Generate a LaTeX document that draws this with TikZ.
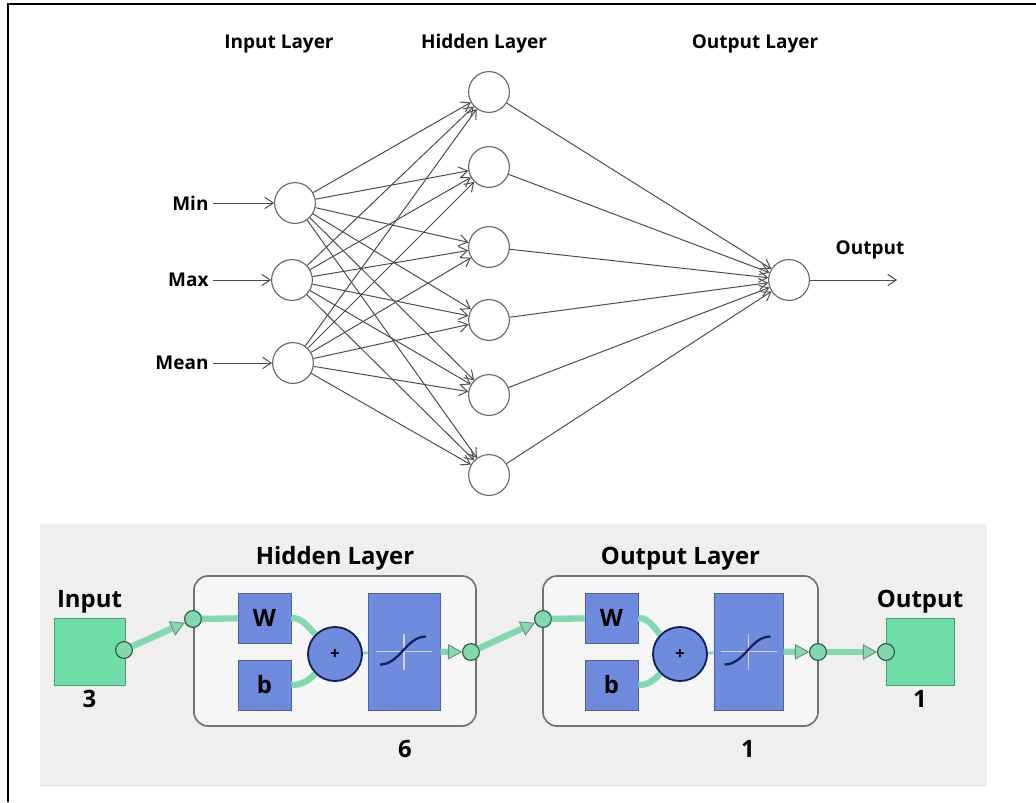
\documentclass[tikz,border=0pt]{standalone}
\usepackage{fontspec}
\setmainfont{Open Sans}
\usepackage{xcolor}
\usepackage{tikz}
\usetikzlibrary{shapes.geometric,arrows.meta,positioning,calc}

\definecolor{mintbox}{RGB}{112,222,168}
\definecolor{tubeg}{RGB}{132,216,176}
\definecolor{portdark}{RGB}{40,90,60}
\definecolor{blueb}{RGB}{111,139,222}
\definecolor{navy}{RGB}{20,30,90}
\definecolor{panelg}{RGB}{239,239,239}
\definecolor{layerg}{RGB}{246,246,246}

\begin{document}
\begin{tikzpicture}[
  x=0.025cm, y=-0.025cm,
  every node/.style={font=\bfseries},
  toplbl/.style={font=\fontsize{13.5}{15}\selectfont\bfseries},
  botlbl/.style={font=\fontsize{17}{20}\selectfont\bfseries},
  neuron/.style={draw=black!60, circle, minimum size=1.02cm, line width=0.8pt, fill=white},
  link/.style={-{Straight Barb[length=6pt,width=8pt]}, draw=black!70, line width=0.7pt},
  iobox/.style={draw=mintbox!70!black, fill=mintbox, minimum width=1.775cm, minimum height=1.675cm},
  layerbox/.style={draw=black!55, fill=layerg, rounded corners=10pt, line width=1.2pt, minimum height=3.75cm},
  wbbox/.style={draw=blueb!70!black, fill=blueb, minimum width=1.325cm, minimum height=1.25cm, font=\fontsize{17}{20}\selectfont\bfseries},
  tfbox/.style={draw=blueb!70!black, fill=blueb, minimum height=2.925cm},
  sumnode/.style={draw=navy, circle, fill=blueb, line width=1.3pt, minimum size=1.35cm, font=\large\bfseries},
  port/.style={draw=portdark, circle, fill=tubeg, line width=0.8pt, minimum size=0.42cm, inner sep=0pt},
  tube/.style={draw=tubeg, line width=4.5pt},
  tubearrow/.style={tube, -{Triangle[length=10pt,width=11pt,line width=0.6pt,fill=tubeg,color=portdark!70]}}
]
  % frame
  \useasboundingbox (0,0) rectangle (1036,802);
  \draw[line width=1.6pt] (8,802) -- (8,4) -- (1036,4);

  % fully connected net
  \node[toplbl] (tin) at (279,44) {Input Layer};
  \node[toplbl] (thid) at (484,44) {Hidden Layer};
  \node[toplbl] (tout) at (755,44) {Output Layer};

  \node[neuron] (i1) at (295,203) {};
  \node[neuron] (i2) at (292,280) {};
  \node[neuron] (i3) at (293,363) {};
  \node[neuron] (h1) at (489,92) {};
  \node[neuron] (h2) at (489,167) {};
  \node[neuron] (h3) at (489,247) {};
  \node[neuron] (h4) at (489,320) {};
  \node[neuron] (h5) at (489,395) {};
  \node[neuron] (h6) at (489,475) {};
  \node[neuron] (o1) at (789,280) {};

  \node[toplbl, anchor=east, inner sep=3pt] (min) at (213,203) {Min};
  \node[toplbl, anchor=east, inner sep=3pt] (max) at (213,280) {Max};
  \node[toplbl, anchor=east, inner sep=3pt] (mean) at (213,363) {Mean};
  \node[toplbl] (outl) at (870,250) {Output};
  \coordinate (oend) at (897,280);

  \draw[link] (min) -- (i1);
  \draw[link] (max) -- (i2);
  \draw[link] (mean) -- (i3);
  \draw[link] (i1) -- (h1);
  \draw[link] (i1) -- (h2);
  \draw[link] (i1) -- (h3);
  \draw[link] (i1) -- (h4);
  \draw[link] (i1) -- (h5);
  \draw[link] (i1) -- (h6);
  \draw[link] (i2) -- (h1);
  \draw[link] (i2) -- (h2);
  \draw[link] (i2) -- (h3);
  \draw[link] (i2) -- (h4);
  \draw[link] (i2) -- (h5);
  \draw[link] (i2) -- (h6);
  \draw[link] (i3) -- (h1);
  \draw[link] (i3) -- (h2);
  \draw[link] (i3) -- (h3);
  \draw[link] (i3) -- (h4);
  \draw[link] (i3) -- (h5);
  \draw[link] (i3) -- (h6);
  \draw[link] (h1) -- (o1);
  \draw[link] (h2) -- (o1);
  \draw[link] (h3) -- (o1);
  \draw[link] (h4) -- (o1);
  \draw[link] (h5) -- (o1);
  \draw[link] (h6) -- (o1);
  \draw[link] (o1) -- (oend);

  % block view
  \fill[panelg] (40,524) rectangle (987,787);

  \node[iobox] (inbox) at (89.5,651.5) {};
  \node[botlbl, above=0pt of inbox] (inlbl) {Input};
  \node[botlbl, below=0pt of inbox] (innum) {3};

  \node[layerbox, minimum width=7.05cm] (hid) at (335,651) {};
  \node[botlbl, above=0pt of hid] (hidlbl) {Hidden Layer};
  \node[botlbl] (hidnum) at (405,749) {6};
  \node[wbbox] (w1) at (264.5,618) {W};
  \node[wbbox] (b1) at (264.5,685) {b};
  \node[sumnode] (p1) at (335,654) {+};
  \node[tfbox, minimum width=1.8cm] (t1) at (404,651.5) {};

  \node[layerbox, minimum width=6.875cm] (out) at (680.5,651) {};
  \node[botlbl, above=0pt of out] (outlbl) {Output Layer};
  \node[botlbl] (outnum) at (748,749) {1};
  \node[wbbox] (w2) at (611.5,618) {W};
  \node[wbbox] (b2) at (611.5,685) {b};
  \node[sumnode] (p2) at (680,654) {+};
  \node[tfbox, minimum width=1.725cm] (t2) at (748.5,651.5) {};

  \node[iobox, minimum width=1.7cm] (outbox) at (920,651.5) {};
  \node[botlbl, above=0pt of outbox] (outblbl) {Output};
  \node[botlbl, below=0pt of outbox] (outbnum) {1};

  % transfer curves
  \draw[white!65!blueb, line width=0.8pt] ([shift={(-28,0)}]t1.center) -- ([shift={(28,0)}]t1.center)
    ([shift={(0,-18)}]t1.center) -- ([shift={(0,18)}]t1.center);
  \draw[white!65!blueb, line width=0.8pt] ([shift={(-28,0)}]t2.center) -- ([shift={(28,0)}]t2.center)
    ([shift={(0,-18)}]t2.center) -- ([shift={(0,18)}]t2.center);
  \draw[navy, line width=1.6pt] ([shift={(-24,13)}]t1.center) .. controls ([shift={(-4,13)}]t1.center) and ([shift={(2,-15)}]t1.center) .. ([shift={(22,-15)}]t1.center);
  \draw[navy, line width=1.6pt] ([shift={(-24,13)}]t2.center) .. controls ([shift={(-4,13)}]t2.center) and ([shift={(2,-15)}]t2.center) .. ([shift={(22,-15)}]t2.center);

  % ports
  \node[port] (pin) at (124,650) {};
  \node[port] (hin) at (193,619) {};
  \node[port] (hout) at (471,652) {};
  \node[port] (oin) at (543,619) {};
  \node[port] (oout) at (818,652) {};
  \node[port] (pend) at (886,652) {};

  % wiring
  \draw[tubearrow] (pin) -- (hin);
  \draw[tube] (hin) -- (w1);
  \draw[tube] (w1.east) to[out=0, in=135] (p1);
  \draw[tube] (b1.east) to[out=0, in=-135] (p1);
  \draw[tube, line width=2pt] (p1) -- (t1);
  \draw[tubearrow] (t1) -- (hout);
  \draw[tubearrow] (hout) -- (oin);
  \draw[tube] (oin) -- (w2);
  \draw[tube] (w2.east) to[out=0, in=135] (p2);
  \draw[tube] (b2.east) to[out=0, in=-135] (p2);
  \draw[tube, line width=2pt] (p2) -- (t2);
  \draw[tubearrow] (t2) -- (oout);
  \draw[tubearrow] (oout) -- (pend);
\end{tikzpicture}
\end{document}
